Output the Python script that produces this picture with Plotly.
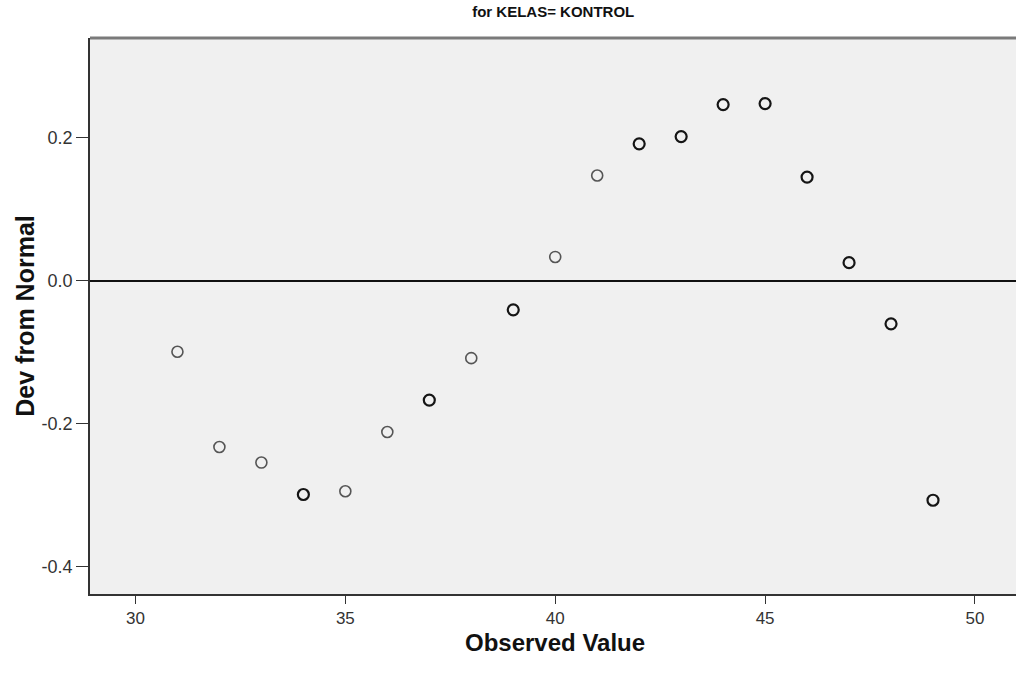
import plotly.graph_objects as go

observed = [31, 32, 33, 34, 35, 36, 37, 38, 39, 40, 41, 42, 43, 44, 45, 46, 47, 48, 49]
dev_from_normal = [-0.0996, -0.2328, -0.2546, -0.2993, -0.2947, -0.2119, -0.1672, -0.1085,
                   -0.0409, 0.0331, 0.1471, 0.1913, 0.2015, 0.2462, 0.2476, 0.1448, 0.0251,
                   -0.0605, -0.3073]
# 1 = single case, 2 = overlapping cases (drawn darker in the reference)
overlap = [1, 1, 1, 2, 1, 1, 2, 1, 2, 1, 1, 2, 2, 2, 2, 2, 2, 2, 2]

x_ticks = [30, 35, 40, 45, 50]
y_ticks = [-0.4, -0.2, 0.0, 0.2]
y_tick_text = ["-0.4", "-0.2", "0.0", "0.2"]

title_text = "for KELAS= KONTROL"
x_title = "Observed Value"
y_title = "Dev from Normal"

fig = go.Figure()

for level, col in [(1, "#555555"), (2, "#151515")]:
    xs = [x for x, o in zip(observed, overlap) if o == level]
    ys = [y for y, o in zip(dev_from_normal, overlap) if o == level]
    fig.add_trace(go.Scatter(
        x=xs, y=ys, mode="markers",
        marker=dict(symbol="circle-open", size=11,
                    color=col, line=dict(width=1.6 if level == 1 else 2.2, color=col)),
        showlegend=False, hoverinfo="x+y"))

regular = "Liberation Sans, Arial, sans-serif"

fig.update_layout(
    width=1016, height=673,
    margin=dict(l=90, r=0, t=38, b=79),
    paper_bgcolor="white",
    plot_bgcolor="#F0F0F0",
    title=dict(text=f"<b>{title_text}</b>", x=0.5445, xanchor="center",
               y=0.99, yanchor="top",
               font=dict(family=regular, size=15, color="#111")),
    xaxis=dict(range=[28.917, 50.977], tickvals=x_ticks,
               ticktext=[str(v) for v in x_ticks],
               showgrid=False, zeroline=False,
               showline=True, linecolor="#333", linewidth=1.5, mirror=False,
               ticks="outside", ticklen=8, tickwidth=1.3, tickcolor="#333",
               tickfont=dict(family=regular, size=17, color="#333")),
    yaxis=dict(range=[-0.4385, 0.3394], tickvals=y_ticks, ticktext=y_tick_text,
               showgrid=False, zeroline=True, zerolinecolor="#111", zerolinewidth=1.5,
               showline=True, linecolor="#333", linewidth=1.5, mirror=False,
               ticks="outside", ticklen=12, tickwidth=1.3, tickcolor="#333",
               tickfont=dict(family=regular, size=18, color="#333"),
               title=dict(text=f"<b>{y_title}</b>", standoff=0,
                          font=dict(family=regular, size=25, color="#111"))),
)

# x axis title placed as an annotation for exact vertical position
fig.add_annotation(text=f"<b>{x_title}</b>", xref="paper", yref="paper",
                   x=0.502, y=0, xanchor="center", yanchor="middle", yshift=-48,
                   showarrow=False, font=dict(family=regular, size=24, color="#111"))

# top frame line (gray, thicker) as in the reference
fig.add_shape(type="line", xref="paper", yref="paper", x0=0, x1=1, y0=1, y1=1,
              line=dict(color="#7a7a7a", width=3))

fig.write_html("out.html", config={"displayModeBar": False},
               post_script="document.body.style.margin='0';document.body.style.overflow='hidden';")
